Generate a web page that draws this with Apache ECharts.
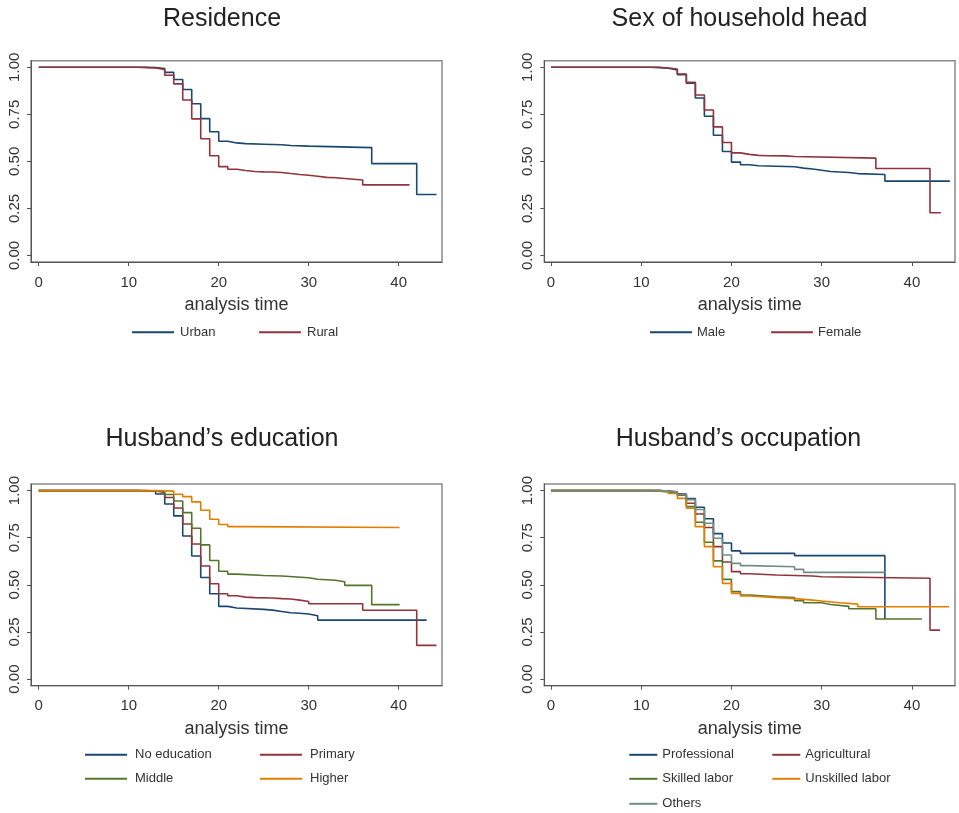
<!DOCTYPE html>
<html>
<head>
<meta charset="utf-8">
<script src="https://cdn.jsdelivr.net/npm/echarts@6.0.0/dist/echarts.min.js"></script>
<style>
  html, body { margin: 0; padding: 0; background: #fff; }
  #main { width: 959px; height: 813px; }
</style>
</head>
<body>
<div id="main"></div>
<script>
// each pair: [time the level starts, survival]; last pair = end of follow-up
const urban = [[0,1],[12,0.998],[13,0.993],[14,0.973],[15,0.935],[16,0.882],[17,0.806],[18,0.727],[19,0.657],[20,0.607],[21,0.598],[22,0.594],[23,0.591],[25,0.588],[27,0.584],[28,0.581],[30,0.573],[37,0.488],[42,0.324],[44.2,0.324]];
const rural = [[0,1],[11,0.998],[12,0.996],[13,0.989],[14,0.958],[15,0.912],[16,0.826],[17,0.726],[18,0.620],[19,0.530],[20,0.472],[21,0.458],[22,0.451],[23,0.446],[24,0.444],[25,0.443],[26,0.441],[27,0.435],[28,0.430],[29,0.426],[30,0.421],[31,0.415],[32,0.413],[33,0.409],[34,0.401],[36,0.375],[41.2,0.375]];

const male = [[0,1],[11,0.998],[12,0.995],[13,0.986],[14,0.961],[15,0.915],[16,0.837],[17,0.740],[18,0.639],[19,0.552],[20,0.496],[21,0.482],[22,0.477],[23,0.474],[25,0.471],[27,0.464],[28,0.459],[29,0.453],[30,0.446],[31,0.441],[33,0.435],[34,0.430],[37,0.395],[44.2,0.395]];
const female = [[0,1],[12,0.996],[13,0.991],[14,0.964],[15,0.920],[16,0.853],[17,0.773],[18,0.683],[19,0.600],[20,0.545],[21,0.537],[22,0.532],[23,0.530],[24,0.529],[26,0.526],[27,0.517],[36,0.462],[42,0.227],[43.2,0.227]];

const noEducation = [[0,1],[11,0.998],[12,0.995],[13,0.982],[14,0.929],[15,0.866],[16,0.759],[17,0.653],[18,0.539],[19,0.453],[20,0.386],[21,0.377],[22,0.370],[25,0.366],[26,0.359],[27,0.352],[28,0.349],[29,0.345],[30,0.336],[31,0.313],[43.1,0.313]];
const primary = [[0,1],[11,0.998],[13,0.990],[14,0.963],[15,0.908],[16,0.823],[17,0.717],[18,0.600],[19,0.506],[20,0.453],[21,0.442],[22,0.435],[23,0.432],[24,0.430],[26,0.427],[27,0.425],[28,0.419],[29,0.412],[30,0.400],[36,0.365],[42,0.179],[44.2,0.179]];
const middle = [[0,1],[12,0.998],[13,0.995],[14,0.979],[15,0.945],[16,0.883],[17,0.800],[18,0.712],[19,0.629],[20,0.572],[21,0.557],[22,0.550],[25,0.547],[27,0.538],[30,0.530],[31,0.524],[33,0.516],[34,0.497],[37,0.395],[40.1,0.395]];
const higher = [[0,1],[13,0.997],[15,0.981],[16,0.968],[17,0.940],[18,0.896],[19,0.848],[20,0.820],[21,0.809],[23,0.804],[40.1,0.804]];

const professional = [[0,1],[12,0.998],[13,0.993],[14,0.982],[15,0.958],[16,0.912],[17,0.851],[18,0.772],[19,0.722],[20,0.680],[21,0.667],[27,0.655],[37,0.319]];
const agricultural = [[0,1],[12,0.998],[13,0.990],[14,0.975],[15,0.933],[16,0.876],[17,0.804],[18,0.703],[19,0.621],[20,0.570],[21,0.559],[22,0.552],[25,0.547],[29,0.543],[30,0.535],[42,0.260],[43.1,0.260]];
const skilledLabor = [[0,1],[11,0.997],[12,0.993],[13,0.985],[14,0.977],[15,0.915],[16,0.832],[17,0.726],[18,0.627],[19,0.529],[20,0.464],[21,0.446],[22,0.437],[25,0.432],[27,0.416],[28,0.405],[30,0.396],[31,0.386],[33,0.373],[36,0.319],[41.1,0.319]];
const unskilledLabor = [[0,1],[12,0.997],[13,0.985],[14,0.959],[15,0.906],[16,0.809],[17,0.703],[18,0.596],[19,0.508],[20,0.455],[21,0.441],[22,0.432],[25,0.427],[27,0.419],[29,0.414],[30,0.405],[32,0.398],[34,0.384],[44.1,0.384]];
const others = [[0,1],[12,0.998],[13,0.992],[14,0.978],[15,0.952],[16,0.900],[17,0.827],[18,0.747],[19,0.658],[20,0.614],[21,0.602],[22,0.596],[27,0.582],[28,0.566],[37.1,0.566]];

const xTicks = [0, 10, 20, 30, 40];
const yTicks = [0, 0.25, 0.5, 0.75, 1];
const titles = ["Residence", "Sex of household head", "Husband\u2019s education", "Husband\u2019s occupation"];

const NAVY = "#1a476f", MAROON = "#90353b", FOREST = "#55752f", ORANGE = "#e37e00", TEAL = "#6e8e84";
const FONT = "Liberation Sans, Arial, Helvetica, sans-serif";

let chart = echarts.init(document.getElementById("main"));

// plot boxes in px, plus the x range each box covers
const boxes = [
  { left: 31, top: 60.7, width: 411, height: 201.3, xmin: -0.86, xmax: 44.81 },
  { left: 544.3, top: 60.7, width: 410.7, height: 201.3, xmin: -0.74, xmax: 44.77 },
  { left: 31, top: 484, width: 411, height: 201.7, xmin: -0.86, xmax: 44.81 },
  { left: 544.3, top: 484, width: 410.7, height: 201.7, xmin: -0.74, xmax: 44.77 },
];

let grids = boxes.map((b) => ({
  left: b.left, top: b.top, width: b.width, height: b.height,
  show: true, borderColor: "#8a8a8a", borderWidth: 1.5, backgroundColor: "#fff",
}));

let xAxes = boxes.map((b, i) => ({
  type: "value", gridIndex: i, min: b.xmin, max: b.xmax,
  name: "analysis time", nameLocation: "middle", nameGap: 34,
  nameTextStyle: { fontSize: 18, color: "#333", fontFamily: FONT },
  axisLine: { show: true, onZero: false, lineStyle: { color: "#555", width: 1 } },
  axisTick: { show: true, length: 4, customValues: xTicks, lineStyle: { color: "#555" } },
  axisLabel: { customValues: xTicks, fontSize: 15, color: "#333", margin: 13, fontFamily: FONT },
  splitLine: { show: false },
}));

let yAxes = boxes.map((b, i) => ({
  type: "value", gridIndex: i, min: -0.035, max: 1.035,
  axisLine: { show: true, onZero: false, lineStyle: { color: "#555", width: 1 } },
  axisTick: { show: true, length: 4, customValues: yTicks, lineStyle: { color: "#555" } },
  axisLabel: {
    customValues: yTicks, rotate: 90, fontSize: 15, color: "#333", margin: 9, fontFamily: FONT,
    formatter: (v) => v.toFixed(2),
  },
  splitLine: { show: false },
}));

function km(name, data, color, idx) {
  return {
    name, type: "line", step: "end", data,
    xAxisIndex: idx, yAxisIndex: idx,
    showSymbol: false, symbol: "none",
    lineStyle: { color, width: 1.6 },
    itemStyle: { color },
    emphasis: { disabled: true },
  };
}

let series = [
  km("Urban", urban, NAVY, 0),
  km("Rural", rural, MAROON, 0),
  km("Male", male, NAVY, 1),
  km("Female", female, MAROON, 1),
  km("No education", noEducation, NAVY, 2),
  km("Primary", primary, MAROON, 2),
  km("Middle", middle, FOREST, 2),
  km("Higher", higher, ORANGE, 2),
  km("Professional", professional, NAVY, 3),
  km("Agricultural", agricultural, MAROON, 3),
  km("Skilled labor", skilledLabor, FOREST, 3),
  km("Unskilled labor", unskilledLabor, ORANGE, 3),
  km("Others", others, TEAL, 3),
];

// one legend per key so each sits where Stata put it: name, x, y, key width, text gap
const keys = [
  ["Urban", 132, 331.7, 42, 1], ["Rural", 259, 331.7, 42, 1],
  ["Male", 650, 331.7, 42, 0], ["Female", 771, 331.7, 42, 0],
  ["No education", 85, 754.3, 42, 3], ["Primary", 260, 754.3, 42, 3],
  ["Middle", 85, 778.3, 42, 3], ["Higher", 260, 778.3, 42, 3],
  ["Professional", 629.3, 754.3, 28, 0], ["Agricultural", 772.3, 754.3, 28, 0],
  ["Skilled labor", 629.3, 778.3, 28, 0], ["Unskilled labor", 772.3, 778.3, 28, 0],
  ["Others", 629.3, 803.3, 28, 0],
];
let legends = keys.map(([name, x, y, w, gap]) => ({
  data: [name], left: x, top: y - 6, padding: 0,
  icon: "rect", itemWidth: w, itemHeight: 2, itemGap: 0,
  textStyle: { fontSize: 13, color: "#333", fontFamily: FONT, padding: [0, 0, 0, gap] },
  selectedMode: false,
}));

const titlePos = [[222, 6.5], [739.5, 6.5], [222, 426.5], [738.5, 426.5]];
let title = titles.map((t, i) => ({
  text: t, left: titlePos[i][0], top: titlePos[i][1], textAlign: "center", padding: 0,
  textStyle: { fontSize: 25, fontWeight: "normal", color: "#222", fontFamily: FONT },
}));

let option = {
  animation: false,
  backgroundColor: "#fff",
  title,
  grid: grids,
  xAxis: xAxes,
  yAxis: yAxes,
  legend: legends,
  series,
};
chart.setOption(option);
</script>
</body>
</html>
